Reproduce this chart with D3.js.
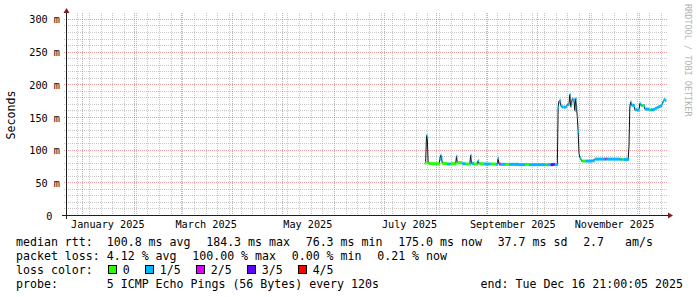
<!DOCTYPE html>
<html><head><meta charset="utf-8">
<script src="https://cdn.jsdelivr.net/npm/d3@7"></script>
<style>
html,body{margin:0;padding:0;background:#fff;}
svg{display:block;}
text{white-space:pre;}
</style>
</head><body>
<svg id="chart" width="697" height="297"></svg>
<script>
// ---------------- data ----------------
const timeDomain = ["2024-12-22 05", "2025-12-17 05"];
const yMax = 306;
const yMajorTicks = [0, 50, 100, 150, 200, 250, 300];
const yMinorStep = 10;
const monthLabelStarts = ["2025-01-01 00", "2025-03-01 00", "2025-05-01 00", "2025-07-01 00", "2025-09-01 00", "2025-11-01 00"];

const obsTime = [
 "2025-07-25 12","2025-07-26 00","2025-07-26 12","2025-07-27 00","2025-07-27 12","2025-07-29 00","2025-08-01 00","2025-08-03 00",
 "2025-08-03 12","2025-08-04 00","2025-08-04 12","2025-08-05 00","2025-08-08 00","2025-08-10 00","2025-08-13 00","2025-08-13 12",
 "2025-08-14 00","2025-08-17 00","2025-08-19 00","2025-08-21 12","2025-08-22 00","2025-08-22 12","2025-08-24 00","2025-08-26 00",
 "2025-08-26 12","2025-08-27 00","2025-08-30 00","2025-09-03 00","2025-09-06 00","2025-09-07 00","2025-09-07 12","2025-09-08 00",
 "2025-09-09 00","2025-09-12 00","2025-09-14 00","2025-09-20 00","2025-09-24 00","2025-09-26 00","2025-10-02 00","2025-10-06 00",
 "2025-10-07 00","2025-10-09 00","2025-10-10 12","2025-10-11 12","2025-10-13 00","2025-10-13 12","2025-10-14 00","2025-10-14 12",
 "2025-10-15 00","2025-10-15 12","2025-10-16 12","2025-10-17 00","2025-10-18 12","2025-10-19 00","2025-10-20 00","2025-10-20 12",
 "2025-10-21 00","2025-10-21 12","2025-10-22 00","2025-10-22 12","2025-10-23 00","2025-10-23 12","2025-10-24 00","2025-10-24 12",
 "2025-10-25 00","2025-10-25 12","2025-10-26 00","2025-10-26 12","2025-10-27 00","2025-10-27 12","2025-10-28 00","2025-10-30 00",
 "2025-11-03 00","2025-11-04 12","2025-11-10 00","2025-11-10 12","2025-11-11 00","2025-11-11 12","2025-11-12 00","2025-11-20 00",
 "2025-11-21 00","2025-11-22 00","2025-11-24 12","2025-11-25 00","2025-11-25 12","2025-11-26 00","2025-11-26 12","2025-11-28 00",
 "2025-11-28 12","2025-11-30 00","2025-12-01 00","2025-12-01 12","2025-12-02 00","2025-12-03 00","2025-12-04 00","2025-12-04 12",
 "2025-12-07 00","2025-12-08 00","2025-12-10 00","2025-12-11 00","2025-12-12 00","2025-12-13 00","2025-12-14 00","2025-12-15 00",
 "2025-12-15 12","2025-12-16 00","2025-12-16 12","2025-12-16 21"
];
const obsMedian = [
 79,80,122,118,79,78.5,78.5,78,
 85,91.5,88,79,78,78.5,78,90,
 80,78.5,78,78,91.5,79,78,78,
 83,78.5,78,78,77.5,77.5,86.5,78,
 77.5,77.5,77.5,77,77.5,77,77,77,
 77,77,77.5,77,77,165,174,175.5,
 168,165.5,165,165,166,169,170,184.3,
 166,171,178,176,176,160,178,165,
 150,128,95,88,86,83,82.5,82.5,
 83,85.5,85.5,85.5,85.5,86,85.5,85,
 85,85,85,105,166,173,168,167.5,
 161,160.5,160.5,170.5,168,167.5,167,162,
 161,161,162,163.5,165,166,167.5,170,
 174,176.7,176,175
];
const obsLoss = [
 0,0,1,1,0,0,0,0,
 1,1,1,0,1,0,0,1,
 0,1,0,1,1,1,0,1,
 1,0,1,0,1,1,1,2,
 1,0,1,1,0,1,1,0,
 1,3,3,1,1,1,1,1,
 1,1,0,1,1,1,1,1,
 1,1,1,1,1,1,1,1,
 1,1,1,1,0,1,0,1,
 1,1,1,4,1,2,1,1,
 0,1,1,1,1,1,1,1,
 1,1,0,1,1,0,1,1,
 0,1,1,1,1,1,1,1,
 1,1,1,1
];

const lossLabels = ["0", "1/5", "2/5", "3/5", "4/5"];
const lossColors = ["#26ff00", "#00b8ff", "#dd00ff", "#5e00ff", "#ff0000"];
const medianStats = ["100.8 ms avg", "184.3 ms max", "76.3 ms min", "175.0 ms now", "37.7 ms sd", "2.7   am/s"];
const lossStats = ["4.12 % avg", "100.00 % max", "0.00 % min", "0.21 % now"];
const rowLabels = ["median rtt:  ", "packet loss: ", "loss color:", "probe:       "];
const probeText = "5 ICMP Echo Pings (56 Bytes) every 120s";
const endText = "end: Tue Dec 16 21:00:05 2025";
const yTitle = "Seconds";
const watermark = "RRDTOOL / TOBI OETIKER";

// ---------------- drawing ----------------
const MONO = "'DejaVu Sans Mono', 'Liberation Mono', monospace";
const parseT = d3.utcParse("%Y-%m-%d %H");
const svg = d3.select("#chart");
svg.append("rect").attr("width", 697).attr("height", 297).attr("fill", "#ffffff");

const L = 66, R = 666, T = 15, B = 215;
const x = d3.scaleUtc().domain(timeDomain.map(parseT)).range([L, R]);
const y = d3.scaleLinear().domain([0, yMax]).range([B, T]);
const pix = v => Math.round(v) + 0.5;

const gridMinor = "rgba(143,143,143,0.5)";
const gridMajor = "rgba(222,79,79,0.55)";

const grid = svg.append("g").attr("fill", "none").attr("stroke-width", 1).attr("stroke-dasharray", "1,1");

// horizontal grid
const minorY = d3.range(yMinorStep, yMax, yMinorStep).filter(v => v % 50 !== 0);
grid.selectAll("line.hmin").data(minorY).join("line")
  .attr("x1", L - 2).attr("x2", R + 2)
  .attr("y1", d => pix(y(d))).attr("y2", d => pix(y(d)))
  .attr("stroke", gridMinor);
grid.selectAll("line.hmaj").data(yMajorTicks.filter(v => v > 0)).join("line")
  .attr("x1", L - 2).attr("x2", R + 2)
  .attr("y1", d => pix(y(d))).attr("y2", d => pix(y(d)))
  .attr("stroke", gridMajor);

// vertical grid
const [d0, d1] = x.domain();
const months = d3.utcMonth.range(d3.utcMonth.ceil(d0), d1);
const weeks = d3.utcSunday.range(d3.utcSunday.ceil(d0), d1)
  .filter(w => !months.some(m => Math.abs(x(m) - x(w)) < 1));
grid.append("g").selectAll("line").data(weeks).join("line")
  .attr("x1", d => pix(x(d))).attr("x2", d => pix(x(d)))
  .attr("y1", T - 2).attr("y2", B + 2)
  .attr("stroke", gridMinor);
grid.append("g").selectAll("line").data(months).join("line")
  .attr("x1", d => pix(x(d))).attr("x2", d => pix(x(d)))
  .attr("y1", T - 2).attr("y2", B + 2)
  .attr("stroke", gridMajor);

// data
const pts = obsTime.map((t, i) => ({t: parseT(t), v: obsMedian[i], l: obsLoss[i]}));
const line = d3.line().x(d => x(d.t)).y(d => y(d.v));
svg.append("path").datum(pts).attr("d", line)
  .attr("fill", "none").attr("stroke", "#101010").attr("stroke-width", 1);

svg.append("g").selectAll("rect").data(pts).join("rect")
  .attr("x", d => x(d.t))
  .attr("width", (d, i) => i < pts.length - 1 ? Math.max(0.9, x(pts[i + 1].t) - x(d.t)) : 1)
  .attr("y", d => y(d.v) - 1.5)
  .attr("height", 3)
  .attr("fill", d => lossColors[d.l]);

// axes lines
const axisCol = "#1f1f1f", arrowCol = "#7f1f1f";
svg.append("line").attr("x1", L - 4).attr("x2", R + 4).attr("y1", B + 0.5).attr("y2", B + 0.5)
  .attr("stroke", axisCol).attr("stroke-width", 1);
svg.append("line").attr("x1", L + 0.5).attr("x2", L + 0.5).attr("y1", B + 4).attr("y2", T - 4)
  .attr("stroke", axisCol).attr("stroke-width", 1);
svg.append("path").attr("d", `M${R + 2},${B - 2.5}L${R + 2},${B + 3.5}L${R + 7},${B + 0.5}Z`).attr("fill", arrowCol);
svg.append("path").attr("d", `M${L - 2.5},${T - 2}L${L + 3.5},${T - 2}L${L + 0.5},${T - 7}Z`).attr("fill", arrowCol);

// y axis labels
const yAxis = d3.axisLeft(y).tickValues(yMajorTicks).tickSize(0).tickPadding(0)
  .tickFormat(v => v === 0 ? "0" : v + " m");
const gy = svg.append("g").attr("transform", `translate(60,0.5)`).call(yAxis);
gy.select(".domain").remove();
gy.selectAll("text").attr("font-family", MONO).attr("font-size", 10.2).attr("fill", "#000")
  .attr("x", v => v === 0 ? -7.5 : 0).attr("dy", "0.35em");

// x axis labels (centered in the middle of the labelled month)
const labelMonths = monthLabelStarts.map(parseT);
const fmtMonth = d3.utcFormat("%B %Y");
const xAxis = d3.axisBottom(x).tickValues(labelMonths.map(m => d3.utcDay.offset(m, 15)))
  .tickSize(0).tickPadding(0).tickFormat(d => fmtMonth(d3.utcMonth.floor(d)));
const gx = svg.append("g").attr("transform", `translate(0,${B})`).call(xAxis);
gx.select(".domain").remove();
gx.selectAll("text").attr("font-family", MONO).attr("font-size", 10.2).attr("fill", "#000")
  .attr("y", 13).attr("dy", 0);

// y title
svg.append("text").attr("transform", "translate(11,115) rotate(-90)")
  .attr("text-anchor", "middle").attr("dominant-baseline", "central")
  .attr("font-family", MONO).attr("font-size", 11.6).attr("fill", "#000").text(yTitle);

// watermark
svg.append("text").attr("transform", "translate(684.5,4) rotate(90)")
  .attr("font-family", MONO).attr("font-size", 8.5).attr("fill", "#b3b3b3").text(watermark);

// legend
const leg = svg.append("g").attr("font-family", MONO).attr("font-size", 11.6).attr("fill", "#000");
const gap = 15.7, rowY = [246, 260, 274, 288], X0 = 16;
function put(xp, yp, s) { return leg.append("text").attr("x", xp).attr("y", yp).text(s); }
function row(items, yp, first) {
  let t = put(X0, yp, first + items[0]);
  let xp = X0 + t.node().getComputedTextLength() + gap;
  for (let i = 1; i < items.length; i++) {
    t = put(xp, yp, items[i]);
    xp += t.node().getComputedTextLength() + gap;
  }
}
row(medianStats, rowY[0], rowLabels[0]);
row(lossStats, rowY[1], rowLabels[1]);
// loss colors
{
  const t = put(X0, rowY[2], rowLabels[2]);
  let xp = X0 + t.node().getComputedTextLength() + gap;
  lossLabels.forEach((lab, i) => {
    leg.append("rect").attr("x", Math.round(xp) + 0.5).attr("y", rowY[2] - 8.5).attr("width", 8).attr("height", 8)
      .attr("fill", lossColors[i]).attr("stroke", "#000").attr("stroke-width", 1);
    const tt = put(xp + 14.3, rowY[2], lab);
    xp += 14.3 + tt.node().getComputedTextLength() + gap;
  });
}
put(X0, rowY[3], rowLabels[3] + probeText);
put(683, rowY[3], endText).attr("text-anchor", "end");
</script>
</body></html>
